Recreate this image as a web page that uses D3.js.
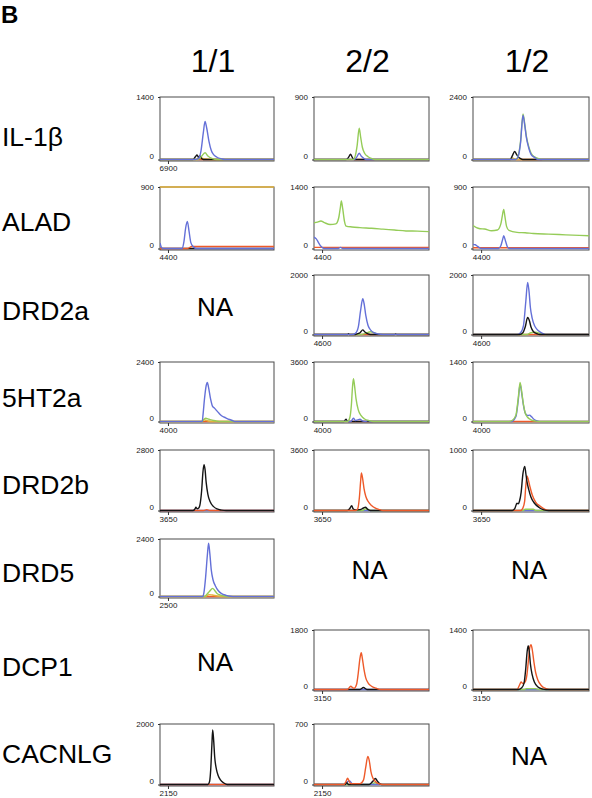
<!DOCTYPE html>
<html><head><meta charset="utf-8">
<script src="https://cdn.jsdelivr.net/npm/d3@7"></script>
<style>body{margin:0;background:#fff}svg{display:block}</style>
</head><body>
<svg id="c" width="592" height="798"></svg>
<script>
// ---------- data ----------
const genes = ["IL-1β","ALAD","DRD2a","5HT2a","DRD2b","DRD5","DCP1","CACNLG"];
const genotypes = ["1/1","2/2","1/2"];
// y max label per panel (null = NA)
const yMaxLabels = [
  [1400, 900, 2400],
  [900, 1400, 900],
  [null, 2000, 2000],
  [2400, 3600, 1400],
  [2800, 3600, 1000],
  [2400, null, null],
  [null, 1800, 1400],
  [2000, 700, null]
];
// x start label per panel ("" = none shown)
const xStartLabels = [
  ["6900", "", ""],
  ["4400", "4400", "4400"],
  [null, "4600", "4600"],
  ["4000", "4000", "4000"],
  ["3650", "3650", "3650"],
  ["2500", null, null],
  [null, "3150", "3150"],
  ["2150", "2150", null]
];
// traces: [position % of window, signal]
const IL1B_11 = {
  red: [[0,0],[100,0]],
  yellow: [[0,0],[32,0],[35,40],[37,30],[40,10],[44,0],[100,0]],
  black: [[0,0],[29,0],[31,60],[32.5,100],[34,40],[35,80],[36.5,20],[38,0],[100,0]],
  green: [[0,0],[33,0],[36,60],[39.5,150],[42,80],[46,20],[50,0],[100,0]],
  blue: [[0,0],[31,0],[34,30],[36,200],[38,600],[39.5,850],[41,700],[43,400],[45,200],[47,110],[50,50],[54,15],[57,0],[100,0]]
};
const IL1B_22 = {
  red: [[0,0],[100,0]],
  black: [[0,0],[28,0],[30,30],[31.8,75],[33,40],[34,10],[35,0],[100,0]],
  blue: [[0,0],[35,0],[37,30],[39.3,90],[41,50],[43,20],[45,0],[100,0]],
  green: [[0,0],[34,0],[36,60],[37.5,200],[39.3,450],[40.5,330],[42,180],[44,90],[47,40],[50,15],[53,0],[100,0]]
};
const IL1B_12 = {
  red: [[0,0],[100,0]],
  yellow: [[0,0],[32,0],[34,60],[36,20],[38,0],[100,0]],
  black: [[0,0],[32,0],[34,150],[35.9,310],[37.5,200],[39,100],[41,30],[43,0],[100,0]],
  green: [[0,0],[37,0],[39,150],[41,700],[43.1,1750],[44.5,1400],[46,900],[48,500],[50,250],[53,100],[57,30],[60,0],[100,0]],
  blue: [[0,0],[37,0],[39,120],[41,650],[43.1,1700],[44.5,1350],[46,850],[48,450],[50,200],[53,80],[56,0],[100,0]]
};
const ALAD_11 = {
  black: [[0,0],[100,0]],
  yellow: [[0,900],[100,900]],
  red: [[0,0],[24,0],[28,30],[100,30]],
  blue: [[0,80],[1.5,10],[3,0],[19.5,0],[21,100],[22.5,300],[24,395],[25.5,250],[27,90],[29,30],[32,0],[100,0]]
};
const ALAD_22 = {
  red: [[0,25],[100,25]],
  blue: [[0,260],[2,220],[4,130],[6,50],[8.7,0],[21,0],[23,25],[25,0],[100,0]],
  green: [[0,585],[3,600],[6,625],[9,590],[14,545],[19,560],[21.5,700],[23,950],[23.8,1080],[25,900],[26.5,620],[28,510],[33,490],[40,475],[50,460],[60,440],[70,420],[80,400],[90,395],[100,385]]
};
const ALAD_12 = {
  red: [[0,10],[100,10]],
  blue: [[0,60],[2,55],[4,30],[7,0],[22,0],[24,40],[25.5,130],[26.5,186],[28,110],[29.5,30],[31,0],[100,0]],
  green: [[0,337],[3,305],[6,290],[10,285],[16,260],[21,270],[24,360],[25.5,500],[26.5,573],[27.5,470],[29,320],[31,265],[38,236],[45,230],[52,220],[65,210],[80,200],[100,186]]
};
const DRD2A_22 = {
  red: [[0,0],[100,0]],
  green: [[0,0],[40,0],[45,40],[49,90],[52,60],[56,10],[59,0],[100,0]],
  black: [[0,0],[29,0],[30,25],[31,0],[36,0],[38,30],[40,60],[42.4,155],[44,90],[46,40],[48,10],[50,0],[70,0],[71,20],[72,0],[100,0]],
  blue: [[0,0],[33,0],[36,40],[38.5,250],[40.5,800],[42.4,1200],[43.5,1050],[45,650],[47,300],[49.5,140],[52,60],[56,15],[60,0],[100,0]]
};
const DRD2A_12 = {
  red: [[0,0],[100,0]],
  green: [[0,0],[46,0],[50,60],[54,80],[58,30],[62,0],[100,0]],
  blue: [[0,0],[38,0],[41,60],[43.5,300],[45.5,1100],[47.1,1750],[48.3,1450],[49.5,900],[51,550],[53,300],[55,180],[58,80],[61,20],[64,0],[100,0]],
  black: [[0,0],[40,0],[43,60],[45,250],[47.1,570],[48.5,480],[50,250],[52,100],[55,30],[58,0],[100,0]]
};
const HT2A_11 = {
  red: [[0,0],[100,0]],
  yellow: [[0,0],[37,0],[38,80],[39.5,60],[42,20],[45,0],[100,0]],
  green: [[0,0],[37,0],[38,60],[40,130],[43,90],[47,40],[50,15],[53,0],[100,0]],
  blue: [[0,0],[37,0],[37.8,300],[39,900],[40.5,1450],[41.5,1580],[42.5,1400],[44.4,900],[46,620],[48,530],[49.5,450],[51.8,330],[54,230],[57.6,150],[61,80],[64,30],[66,0],[100,0]]
};
const HT2A_22 = {
  red: [[0,0],[100,0]],
  black: [[0,0],[26,0],[27.8,140],[29,20],[30,0],[100,0]],
  blue: [[0,0],[32,0],[34.3,195],[36,60],[38,100],[40,140],[42,40],[45,0],[47,60],[49,0],[100,0]],
  green: [[0,0],[29,0],[31,200],[32.5,1000],[33.5,2100],[34.3,2590],[35.2,2200],[36.5,1400],[38.5,700],[41,350],[44,150],[48,50],[52,0],[100,0]]
};
const HT2A_12 = {
  red: [[0,0],[100,0]],
  blue: [[0,0],[33,0],[37,120],[39,500],[40.6,880],[42,660],[43.5,380],[45,200],[47,140],[48.8,150],[50.5,110],[53,40],[56,10],[58,0],[100,0]],
  green: [[0,0],[31,0],[34,30],[37,150],[39,550],[40.6,920],[42,700],[43.5,400],[45,200],[47,100],[50,40],[54,10],[57,0],[100,0]]
};
const DRD2B_11 = {
  blue: [[0,0],[100,0]],
  red: [[0,0],[38,0],[41,40],[44,0],[100,0]],
  black: [[0,0],[29,0],[31,100],[31.5,150],[32.5,80],[34,120],[35,250],[36.5,900],[37.7,1800],[38.6,2120],[39.5,1900],[40.5,1300],[42,750],[44,400],[47,180],[50,70],[54,20],[58,0],[100,0]]
};
const DRD2B_22 = {
  blue: [[0,0],[100,0]],
  green: [[0,0],[42,0],[45,100],[48,30],[50,0],[100,0]],
  black: [[0,0],[29,0],[31,100],[32.8,290],[34,100],[36,40],[40,50],[43,150],[44.8,195],[46.5,80],[49,0],[100,0]],
  red: [[0,0],[36,0],[38,100],[39.5,800],[40.5,1700],[41.2,2240],[42.3,1900],[43.5,1300],[45,850],[47,550],[50,300],[53,150],[57,50],[60,0],[100,0]]
};
const DRD2B_12 = {
  blue: [[0,0],[100,0]],
  green: [[0,0],[43,0],[45,20],[52,20],[54,0],[100,0]],
  red: [[0,0],[41,0],[43,40],[44.5,150],[45.5,400],[46.6,570],[47.5,520],[49,400],[51,260],[54,140],[58,70],[62,20],[66,0],[100,0]],
  black: [[0,0],[34,0],[36,30],[37.9,120],[39,110],[40,150],[41.5,300],[43,600],[44.6,730],[45.5,620],[46.5,480],[48,350],[50,220],[53,120],[57,50],[61,10],[65,0],[100,0]]
};
const DRD5_11 = {
  red: [[0,0],[100,0]],
  yellow: [[0,0],[40,0],[43,80],[46,60],[50,20],[54,0],[100,0]],
  green: [[0,0],[39,0],[41,80],[43.5,220],[46.2,340],[48,250],[50,130],[53,60],[56,20],[59,0],[100,0]],
  blue: [[0,0],[37.5,0],[38.5,150],[40,800],[41.5,1700],[42.6,2220],[43.7,1800],[45,1100],[46.5,700],[48.5,450],[51,250],[54,120],[58,50],[62,10],[66,0],[100,0]]
};
const DCP1_22 = {
  blue: [[0,0],[100,0]],
  black: [[0,0],[40,0],[43,60],[46,0],[100,0]],
  red: [[0,0],[29,0],[31,70],[32,100],[33.5,60],[35,40],[37,150],[38.5,500],[40,950],[41.1,1110],[42,950],[43.5,600],[45,350],[47,200],[50,100],[54,40],[58,0],[100,0]]
};
const DCP1_12 = {
  blue: [[0,0],[100,0]],
  green: [[0,0],[44,0],[46,20],[54,20],[57,0],[100,0]],
  red: [[0,0],[38,0],[40,100],[41.5,175],[43,140],[45,180],[46.5,350],[48,750],[49,1000],[50,1055],[51,950],[52.5,650],[54,400],[56,220],[59,90],[63,20],[66,0],[100,0]],
  black: [[0,0],[39,0],[42,40],[44,150],[45.5,500],[46.7,900],[47.6,1030],[48.5,900],[49.5,600],[51,350],[53,170],[56,60],[60,10],[63,0],[100,0]]
};
const CACNLG_11 = {
  blue: [[0,0],[100,0]],
  red: [[0,0],[100,0]],
  black: [[0,0],[42,0],[43.5,100],[44.5,500],[45.5,1300],[46.2,1800],[47,1500],[48,900],[49.5,500],[51,300],[53,150],[56,50],[59,0],[100,0]]
};
const CACNLG_22 = {
  green: [[0,0],[50,0],[53,20],[56,5],[58,0],[100,0]],
  blue: [[0,0],[27,0],[29,30],[31,40],[33,10],[35,0],[100,0]],
  black: [[0,0],[27,0],[28.5,20],[30,0],[48,0],[50,20],[52,50],[53.5,70],[55,40],[57,10],[59,0],[100,0]],
  red: [[0,0],[26,0],[28,40],[29.2,73],[30.5,40],[32,10],[40,10],[43,50],[45,200],[46.8,325],[48,280],[49.5,150],[51,80],[53,40],[56,10],[60,0],[100,0]]
};
const traces = [
  [IL1B_11, IL1B_22, IL1B_12],
  [ALAD_11, ALAD_22, ALAD_12],
  [null, DRD2A_22, DRD2A_12],
  [HT2A_11, HT2A_22, HT2A_12],
  [DRD2B_11, DRD2B_22, DRD2B_12],
  [DRD5_11, null, null],
  [null, DCP1_22, DCP1_12],
  [CACNLG_11, CACNLG_22, null]
];

// ---------- layout / style ----------
const rowTop = [97,187,275,362,450,539,630,724];
const rowBot = [161,250,336,423,512,598,691,786];
const colL = [160,314,473];
const colR = [274,429,589];
const colors = {blue:"#6470d8", green:"#95cc58", black:"#141414", red:"#ee5a2a", yellow:"#e3b23a"};
const labelBase = [146,231,320,407,494,582,676,763];

const svg = d3.select("#c");
const font = "'Liberation Sans', Arial, sans-serif";

svg.append("text").attr("x",1).attr("y",23).attr("font-family",font)
  .attr("font-weight","bold").attr("font-size",24).text("B");

genotypes.forEach((g,j)=>{
  svg.append("text").attr("x",(colL[j]+colR[j])/2 - 4).attr("y",72)
    .attr("text-anchor","middle").attr("font-family",font).attr("font-size",32).text(g);
});
genes.forEach((g,i)=>{
  svg.append("text").attr("x",2).attr("y",labelBase[i])
    .attr("font-family",font).attr("font-size",26.5).text(g);
});

const defs = svg.append("defs");
traces.forEach((row,i)=>{
  row.forEach((panel,j)=>{
    const L=colL[j], R=colR[j], T=rowTop[i], B=rowBot[i];
    if(!panel){
      svg.append("text").attr("x",(L+R)/2 - 2).attr("y",(T+B)/2+10)
        .attr("text-anchor","middle").attr("font-family",font).attr("font-size",26).text("NA");
      return;
    }
    const max = yMaxLabels[i][j];
    const x = d3.scaleLinear().domain([0,100]).range([L,R]);
    const y = d3.scaleLinear().domain([0,max]).range([B-1.5,T]);
    const id = "clip"+i+"_"+j;
    defs.append("clipPath").attr("id",id).append("rect")
      .attr("x",L).attr("y",T-1).attr("width",R-L).attr("height",B-T+1);
    const g = svg.append("g");
    g.append("rect").attr("x",L).attr("y",T).attr("width",R-L).attr("height",B-T)
      .attr("fill","#fff").attr("stroke","#4a4a4a").attr("stroke-width",1);
    const line = d3.line().x(d=>x(d[0])).y(d=>y(d[1])).curve(d3.curveMonotoneX);
    const tg = g.append("g").attr("clip-path",`url(#${id})`);
    Object.entries(panel).forEach(([c,data])=>{
      tg.append("path").attr("d",line(data)).attr("fill","none")
        .attr("stroke",colors[c]).attr("stroke-width",1.4);
    });
    // y axis labels
    const ya = d3.axisLeft(y).tickValues([0,max]).tickSize(2).tickFormat(d3.format("d"));
    const yg = g.append("g").attr("transform",`translate(${L},0)`).call(ya);
    yg.select(".domain").remove();
    yg.selectAll("text").attr("font-family",font).attr("font-size",8).attr("fill","#222")
      .attr("dx",-1).attr("dy",d=>d===0?"-0.1em":"0.32em");
    yg.selectAll("line").attr("stroke","#333");
    // x axis start label
    const xl = xStartLabels[i][j];
    if(xl){
      const xa = d3.axisBottom(x).tickValues([7]).tickSize(3).tickFormat(()=>xl);
      const xg = g.append("g").attr("transform",`translate(0,${B})`).call(xa);
      xg.select(".domain").remove();
      xg.selectAll("text").attr("font-family",font).attr("font-size",8).attr("fill","#222").attr("dy","0.5em");
      xg.selectAll("line").attr("stroke","#333");
    }
  });
});
</script>
</body></html>
